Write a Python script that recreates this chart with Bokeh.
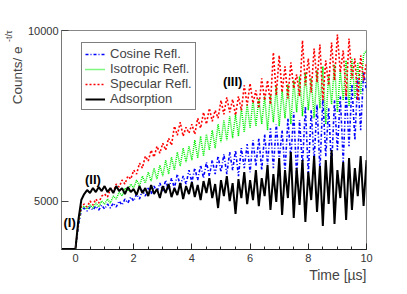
from bokeh.plotting import figure
from bokeh.models import (Range1d, FixedTicker, PrintfTickFormatter, Label,
                          Legend, LegendItem, Title)
from bokeh.embed import file_html
from bokeh.resources import INLINE

# ---- data ----
time_us = [-0.5] + [i / 10 for i in range(101)]

cosine_refl = [4120,
    4120, 4522, 4825, 4864, 4806, 4884, 4825, 4903, 4825, 4923,
    4844, 4943, 4864, 4963, 4884, 5004, 4923, 5045, 4963, 5085,
    5004, 5148, 5045, 5232, 5106, 5274, 5148, 5317, 5190, 5383,
    5211, 5448, 5232, 5492, 5274, 5582, 5317, 5537, 5361, 5673,
    5404, 5720, 5448, 5789, 5492, 5860, 5537, 5908, 5582, 6004,
    5627, 6053, 5582, 6102, 5673, 6152, 5537, 6202, 5720, 6303,
    5627, 6406, 5766, 6457, 5673, 6563, 5813, 6725, 5720, 6835,
    5908, 6670, 5627, 7003, 5956, 7174, 5537, 6946, 5766, 7351,
    5582, 7233, 5908, 7411, 5673, 7593, 6004, 7292, 5720, 7532,
    6152, 7655, 5860, 7843, 6252, 8035, 6406, 8235, 6670, 8436,
    7843]

isotropic_refl = [4120,
    4120, 4558, 4864, 4903, 4844, 4923, 4864, 4963, 4884, 5004,
    4943, 5045, 4963, 5106, 5045, 5190, 5106, 5274, 5211, 5361,
    5274, 5448, 5317, 5537, 5383, 5627, 5426, 5720, 5470, 5789,
    5537, 5908, 5582, 5980, 5673, 6102, 5766, 6202, 5860, 6252,
    5908, 6406, 5956, 6510, 6004, 6563, 6152, 6670, 6202, 6835,
    6354, 6946, 6406, 7059, 6457, 7117, 6510, 7292, 6616, 7411,
    6725, 7532, 6780, 7593, 6835, 7655, 6670, 7717, 6890, 7970,
    6780, 7843, 7003, 8035, 6835, 8167, 7174, 8301, 7059, 8436,
    7233, 8235, 7003, 8504, 7292, 8643, 6835, 8368, 7411, 8712,
    7174, 8504, 7532, 8856, 7351, 8927, 7593, 8783, 7717, 9073,
    9222]

specular_refl = [4120,
    4120, 4600, 4900, 4943, 4884, 5004, 4923, 5045, 4963, 5106,
    5148, 5085, 5253, 5190, 5361, 5296, 5448, 5361, 5537, 5470,
    5673, 5582, 5836, 5720, 6004, 5884, 6152, 5980, 6252, 6077,
    6328, 6152, 6457, 6277, 6780, 6537, 6890, 6510, 6752, 6590,
    6835, 6563, 7003, 6725, 7174, 6835, 7292, 6918, 7233, 7003,
    7532, 7117, 7624, 7174, 7562, 7088, 7655, 7233, 8003, 7381,
    8068, 7441, 7843, 7292, 8235, 7532, 8167, 7411, 9147, 7686,
    9037, 7780, 8643, 7593, 8783, 7907, 8368, 7655, 9603, 8003,
    8927, 7780, 9296, 8101, 9448, 7532, 8856, 8003, 9525, 8167,
    9839, 8436, 9222, 7655, 9680, 8235, 8927, 7532, 9037, 8167,
    8783]

adsorption = [4120,
    4120, 4633, 5024, 5148, 5232, 5169, 5274, 5190, 5296, 5211,
    5317, 5190, 5274, 5169, 5317, 5211, 5274, 5148, 5296, 5190,
    5253, 5127, 5317, 5169, 5274, 5106, 5339, 5148, 5253, 5065,
    5317, 5169, 5361, 5085, 5274, 5127, 5383, 5045, 5317, 5148,
    5404, 5085, 5339, 5024, 5426, 5169, 5492, 5065, 5361, 4864,
    5448, 5106, 5537, 5004, 5383, 4747, 5470, 5065, 5627, 4943,
    5448, 5024, 5673, 4903, 5492, 5106, 5789, 4825, 5582, 4984,
    5956, 4728, 5673, 5065, 6102, 4671, 5720, 4923, 5908, 4596,
    5627, 5024, 6004, 4786, 5766, 4522, 5908, 4943, 6152, 4558,
    5673, 5065, 5860, 4633, 5956, 4825, 5720, 5106, 6004, 4903,
    5908]

series_names = ["Cosine Refl.", "Isotropic Refl.", "Specular Refl.", "Adsorption"]
x_major_ticks = [0, 2, 4, 6, 8, 10]
x_minor_ticks = [k / 2 for k in range(0, 21)]
y_ticks = [5000, 10000]

FONT = "Liberation Sans"

p = figure(width=400, height=290, output_backend="svg", toolbar_location=None,
           y_axis_type="log",
           x_range=Range1d(-0.48, 10.0), y_range=Range1d(4110, 10000),
           min_border_left=61, min_border_right=34, min_border_top=30,
           min_border_bottom=41)
p.xgrid.visible = False
p.ygrid.visible = False
p.outline_line_color = "#888888"
p.outline_line_width = 1
p.background_fill_color = "white"
p.border_fill_color = "white"

# axes
xa = p.xaxis[0]
xa.ticker = FixedTicker(ticks=x_major_ticks, minor_ticks=x_minor_ticks)
xa.major_tick_in = 6
xa.major_tick_out = 0
xa.minor_tick_in = 3
xa.minor_tick_out = 0
xa.axis_line_color = "#222222"
xa.major_tick_line_color = "#222222"
xa.minor_tick_line_color = "#222222"
xa.major_label_text_font = FONT
xa.major_label_text_font_size = "11px"
xa.major_label_text_color = "#333333"
xa.major_label_standoff = 4

ya = p.yaxis[0]
ya.ticker = FixedTicker(ticks=y_ticks, minor_ticks=[])
ya.formatter = PrintfTickFormatter(format="%d")
ya.major_tick_in = 7
ya.major_tick_out = 0
ya.minor_tick_in = 0
ya.minor_tick_out = 0
ya.axis_line_color = "#777777"
ya.major_tick_line_color = "#444444"
ya.major_label_text_font = FONT
ya.major_label_text_font_size = "11px"
ya.major_label_text_color = "#333333"
ya.major_label_standoff = 3
ya.axis_label_standoff = 0

# curves
r_cos = p.line(time_us, cosine_refl, line_color="#0000ff", line_width=1.6,
               line_dash="3 2 1 2")
r_iso = p.line(time_us, isotropic_refl, line_color="#00ee00", line_width=1.5,
               line_dash="1 1")
r_spe = p.line(time_us, specular_refl, line_color="#ff0000", line_width=1.6,
               line_dash="2 2")
r_ads = p.line(time_us, adsorption, line_color="black", line_width=2.0)

legend = Legend(items=[LegendItem(label=n, renderers=[r]) for n, r in
                       zip(series_names, [r_cos, r_iso, r_spe, r_ads])],
                location=(20, 139))
legend.border_line_color = "black"
legend.border_line_width = 1
legend.background_fill_color = "white"
legend.background_fill_alpha = 1
legend.label_text_font = FONT
legend.label_text_font_size = "13px"
legend.label_height = 12
legend.glyph_height = 12
legend.glyph_width = 20
legend.label_standoff = 5
legend.spacing = 0
legend.padding = 3
legend.margin = 0
p.add_layout(legend, "center")

# region annotations
for txt, tx, ty in [("(I)", -0.2, 4580), ("(II)", 0.6, 5450), ("(III)", 5.4, 8134)]:
    p.add_layout(Label(x=tx, y=ty, text=txt, text_font=FONT,
                       text_font_style="bold", text_font_size="13px",
                       text_align="center", text_baseline="middle",
                       text_color="black"))

# axis titles
p.add_layout(Title(text="Time [µs]", align="right", text_font=FONT,
                   text_font_size="14px", text_font_style="normal",
                   standoff=0), "below")
p.add_layout(Title(text="Counts/ e", align="right", offset=16, text_font=FONT,
                   text_font_size="13.5px", text_font_style="normal",
                   standoff=0), "left")
p.add_layout(Title(text="-t/τ", align="right", offset=0, text_font=FONT,
                   text_font_size="9px", text_font_style="normal",
                   standoff=-12), "left")

open("out.html", "w").write(file_html(p, INLINE))
